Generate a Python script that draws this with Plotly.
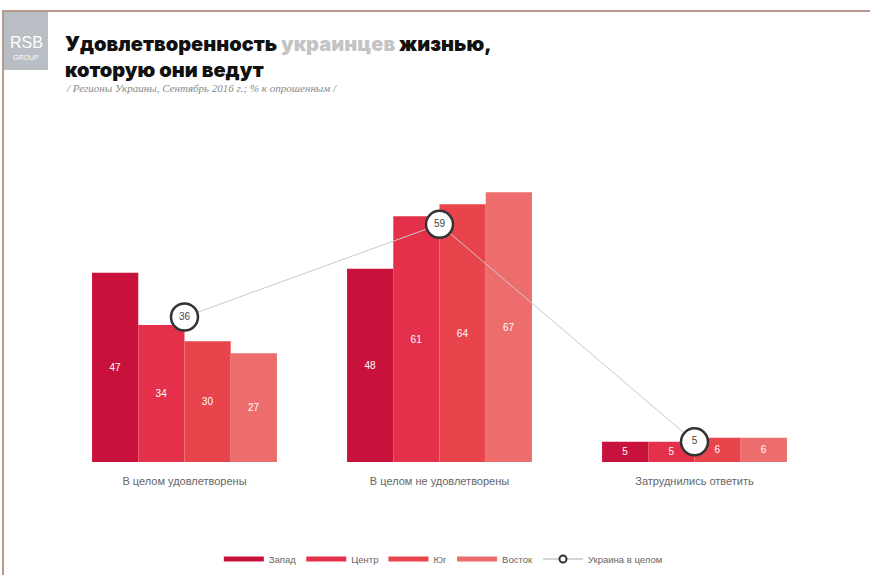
import plotly.graph_objects as go

categories = ["В целом удовлетворены", "В целом не удовлетворены", "Затруднились ответить"]
regions = ["Запад", "Центр", "Юг", "Восток"]
values = {
    "Запад": [47, 48, 5],
    "Центр": [34, 61, 5],
    "Юг": [30, 64, 6],
    "Восток": [27, 67, 6],
}
ukraine_total = [36, 59, 5]
colors = {"Запад": "#c8123c", "Центр": "#e5304b", "Юг": "#e8444c", "Восток": "#ec6d6c"}

W, H = 870, 575
L, R, T, B = 57, 48, 172, 113
PW, PH = W - L - R, H - T - B

def px(x):
    return (x - L) / PW

def py(y):
    return (H - B - y) / PH

fig = go.Figure()
for r in regions:
    fig.add_trace(go.Bar(
        x=categories, y=values[r], name=r, marker=dict(color=colors[r], line=dict(width=0)),
        text=values[r], textposition="inside", insidetextanchor="middle",
        textfont=dict(color="white", size=10, family="Arial, Liberation Sans"),
        showlegend=False, hoverinfo="skip",
    ))

fig.add_trace(go.Scatter(
    x=categories, y=ukraine_total, mode="lines+markers+text", text=ukraine_total,
    textposition="middle center", textfont=dict(color="#444", size=10, family="Arial, Liberation Sans"),
    line=dict(color="#c9c9c9", width=1),
    marker=dict(size=27, color="white", line=dict(color="#333", width=2.5)),
    showlegend=False, hoverinfo="skip",
))

# legend entries
for r in regions:
    fig.add_trace(go.Scatter(x=[None], y=[None], mode="lines", name=r,
                             line=dict(color=colors[r], width=5)))
fig.add_trace(go.Scatter(x=[None], y=[None], mode="lines+markers", name="Украина в целом",
                         line=dict(color="#aaa", width=1),
                         marker=dict(size=7, color="white", line=dict(color="#333", width=2))))

title_font = dict(size=20, color="#111", family="Inter, Lato, DejaVu Sans", weight=900)
annotations = [
    dict(x=px(63), y=py(57), xref="paper", yref="paper", xanchor="left", yanchor="middle",
         showarrow=False, align="left",
         text="Удовлетворенность <span style='color:#c4c4c4'>украинцев</span> жизнью,<br>которую они ведут",
         font=title_font),
    dict(x=px(64), y=py(88), xref="paper", yref="paper", xanchor="left", yanchor="middle",
         showarrow=False, text="<i>/ Регионы Украины, Сентябрь 2016 г.; % к опрошенным /</i>",
         font=dict(size=11, color="#888", family="Liberation Serif")),
    dict(x=px(26), y=py(42), xref="paper", yref="paper", xanchor="center", yanchor="middle",
         showarrow=False, text="RSB", font=dict(size=16, color="white", family="Liberation Sans")),
    dict(x=px(26), y=py(57), xref="paper", yref="paper", xanchor="center", yanchor="middle",
         showarrow=False, text="GROUP", font=dict(size=7, color="white", family="Liberation Sans")),
]

shapes = [
    dict(type="rect", xref="paper", yref="paper", x0=px(3), x1=px(48), y0=py(70), y1=py(12),
         fillcolor="#b9bdc4", line=dict(width=0), layer="below"),
    dict(type="line", xref="paper", yref="paper", x0=px(2), x1=px(870), y0=py(11), y1=py(11),
         line=dict(color="#b59a8f", width=2)),
    dict(type="line", xref="paper", yref="paper", x0=px(3), x1=px(3), y0=py(11), y1=py(575),
         line=dict(color="#b59a8f", width=2)),
]

fig.update_layout(
    width=W, height=H, margin=dict(l=L, r=R, t=T, b=B, autoexpand=False),
    paper_bgcolor="white", plot_bgcolor="white",
    barmode="group", bargap=0.275, bargroupgap=0,
    uniformtext=dict(minsize=9, mode="show"),
    font=dict(family="Arial, Liberation Sans", color="#555"),
    xaxis=dict(showgrid=False, zeroline=False, showline=False, ticks="",
               tickfont=dict(size=11, color="#666"), ticklabelstandoff=11),
    yaxis=dict(range=[0, 72], visible=False, showgrid=False, zeroline=False),
    legend=dict(orientation="h", x=0.505, xanchor="center", y=py(559), yanchor="middle",
                font=dict(size=9.5, color="#666"), itemwidth=40, tracegroupgap=0),
    annotations=annotations, shapes=shapes,
)

fig.write_html("out.html", config={"displayModeBar": False},
               post_script="document.body.style.margin='0';document.body.style.overflow='hidden';")
